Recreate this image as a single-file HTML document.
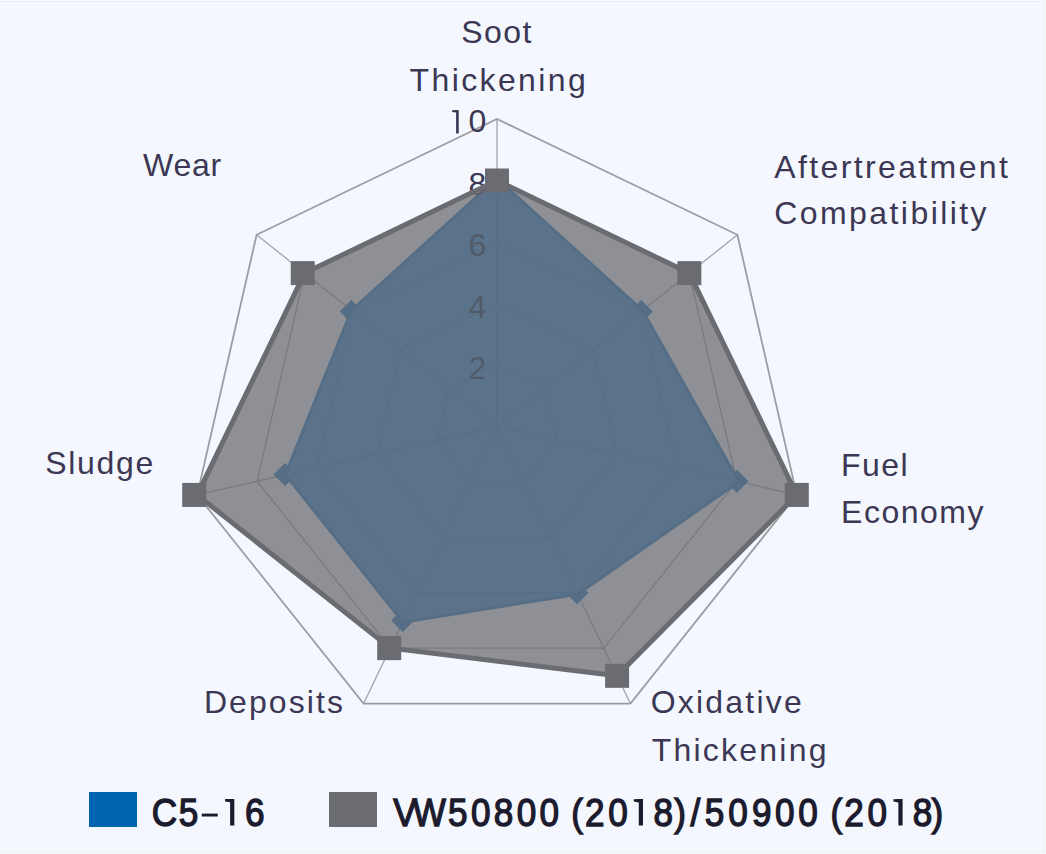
<!DOCTYPE html>
<html><head><meta charset="utf-8"><style>
html,body{margin:0;padding:0;background:#f4f7fd;}
svg{display:block;}
.lbl{font-family:"Liberation Sans",sans-serif;font-size:32px;fill:#3b3754;}
.leg{font-family:"Liberation Sans",sans-serif;font-size:39px;font-weight:normal;fill:#1c1b2e;stroke:#1c1b2e;stroke-width:1.4px;}
.lbl{stroke:#3b3754;stroke-width:0px;}
</style></head><body>
<svg width="1046" height="854" viewBox="0 0 1046 854">
<rect width="1046" height="854" fill="#f4f7fd"/>
<rect x="0" y="0" width="1046" height="1" fill="#f8f9fc"/><rect x="0" y="1" width="1046" height="1" fill="#eceef2"/>
<rect x="1044" y="0" width="1" height="854" fill="#eef0f0"/><rect x="1045" y="0" width="1" height="854" fill="#f7f8f8"/>
<rect x="0" y="852" width="1046" height="1" fill="#eef1f6"/><rect x="0" y="853" width="1046" height="1" fill="#f7f9fd"/>
<g><polygon points="497.00,365.00 545.08,388.16 556.96,440.19 523.68,481.91 470.32,481.91 437.04,440.19 448.92,388.16" fill="none" stroke="#a3a4a9" stroke-width="1.3"/><polygon points="497.00,303.50 593.17,349.81 616.92,453.87 550.37,537.32 443.63,537.32 377.08,453.87 400.83,349.81" fill="none" stroke="#a3a4a9" stroke-width="1.3"/><polygon points="497.00,242.00 641.25,311.47 676.87,467.56 577.05,592.73 416.95,592.73 317.13,467.56 352.75,311.47" fill="none" stroke="#a3a4a9" stroke-width="1.3"/><polygon points="497.00,180.50 689.33,273.12 736.83,481.24 603.74,648.14 390.26,648.14 257.17,481.24 304.67,273.12" fill="none" stroke="#a3a4a9" stroke-width="1.3"/><line x1="497.0" y1="426.5" x2="497.00" y2="119.00" stroke="#a3a4a9" stroke-width="1.3"/><line x1="497.0" y1="426.5" x2="737.41" y2="234.78" stroke="#a3a4a9" stroke-width="1.3"/><line x1="497.0" y1="426.5" x2="796.79" y2="494.93" stroke="#a3a4a9" stroke-width="1.3"/><line x1="497.0" y1="426.5" x2="630.42" y2="703.55" stroke="#a3a4a9" stroke-width="1.3"/><line x1="497.0" y1="426.5" x2="363.58" y2="703.55" stroke="#a3a4a9" stroke-width="1.3"/><line x1="497.0" y1="426.5" x2="197.21" y2="494.93" stroke="#a3a4a9" stroke-width="1.3"/><line x1="497.0" y1="426.5" x2="256.59" y2="234.78" stroke="#a3a4a9" stroke-width="1.3"/><polygon points="497.00,119.00 737.41,234.78 796.79,494.93 630.42,703.55 363.58,703.55 197.21,494.93 256.59,234.78" fill="none" stroke="#9c9da2" stroke-width="1.8"/></g>
<g>
<defs><mask id="outside"><rect width="1046" height="854" fill="#fff"/><polygon points="497.00,180.50 641.25,311.47 736.83,481.24 577.05,592.73 403.61,620.43 287.15,474.40 352.75,311.47" fill="#000"/></mask></defs>
<g opacity="0.8" fill="#006bc7">
<polygon points="497.00,180.50 641.25,311.47 736.83,481.24 577.05,592.73 403.61,620.43 287.15,474.40 352.75,311.47" stroke="#006bc7" stroke-width="6" stroke-linejoin="round"/>
<polygon points="497.00,169.00 508.50,180.50 497.00,192.00 485.50,180.50"/><polygon points="641.25,299.97 652.75,311.47 641.25,322.97 629.75,311.47"/><polygon points="736.83,469.74 748.33,481.24 736.83,492.74 725.33,481.24"/><polygon points="577.05,581.23 588.55,592.73 577.05,604.23 565.55,592.73"/><polygon points="402.67,608.93 414.17,620.43 402.67,631.93 391.17,620.43"/><polygon points="285.05,462.90 296.55,474.40 285.05,485.90 273.55,474.40"/><polygon points="351.31,299.97 362.81,311.47 351.31,322.97 339.81,311.47"/>
</g>
<g mask="url(#outside)" opacity="0.5">
<polygon points="497.00,180.50 641.25,311.47 736.83,481.24 577.05,592.73 403.61,620.43 287.15,474.40 352.75,311.47" fill="none" stroke="#0065b0" stroke-width="6" stroke-linejoin="round"/>
<g fill="#0065b0"><polygon points="497.00,169.00 508.50,180.50 497.00,192.00 485.50,180.50"/><polygon points="641.25,299.97 652.75,311.47 641.25,322.97 629.75,311.47"/><polygon points="736.83,469.74 748.33,481.24 736.83,492.74 725.33,481.24"/><polygon points="577.05,581.23 588.55,592.73 577.05,604.23 565.55,592.73"/><polygon points="402.67,608.93 414.17,620.43 402.67,631.93 391.17,620.43"/><polygon points="285.05,462.90 296.55,474.40 285.05,485.90 273.55,474.40"/><polygon points="351.31,299.97 362.81,311.47 351.31,322.97 339.81,311.47"/></g>
</g>
<g><text class="lbl" x="486.3" y="379.0" text-anchor="end" style="fill:#0a2c50">2</text><text class="lbl" x="486.3" y="317.5" text-anchor="end" style="fill:#0a2c50">4</text><text class="lbl" x="486.3" y="256.0" text-anchor="end" style="fill:#0a2c50">6</text><text class="lbl" x="486.3" y="194.5" text-anchor="end" style="fill:#3b3754">8</text><text class="lbl" x="468.50" y="132.40">0</text><path d="M456.10,110.10H458.70V133.40H456.10V112.50L452.20,111.90V110.30Z" fill="#3b3754"/></g>
<polygon points="497.00,180.50 689.33,273.12 796.79,494.93 617.08,675.84 390.26,648.14 197.21,494.93 304.67,273.12" fill="#6b6c72" fill-opacity="0.74" stroke="none"/>
<polygon points="497.00,180.50 689.33,273.12 796.79,494.93 617.08,675.84 390.26,648.14 197.21,494.93 304.67,273.12" fill="none" stroke="#6b6c72" stroke-width="5" stroke-linejoin="round"/>
<g fill="#6b6c72"><rect x="485.00" y="168.50" width="24.0" height="24.0"/><rect x="677.33" y="261.12" width="24.0" height="24.0"/><rect x="784.79" y="482.93" width="24.0" height="24.0"/><rect x="605.08" y="663.84" width="24.0" height="24.0"/><rect x="377.20" y="636.14" width="24.0" height="24.0"/><rect x="182.21" y="482.93" width="24.0" height="24.0"/><rect x="290.75" y="261.12" width="24.0" height="24.0"/></g>
</g>
<rect x="89" y="792" width="48" height="35" fill="#0065b0"/>
<rect x="329" y="792" width="48" height="35" fill="#6b6c72"/>

<text class="lbl" x="461.30" y="42.80" textLength="70.20" lengthAdjust="spacing">Soot</text><text class="lbl" x="409.50" y="91.16" textLength="176.30" lengthAdjust="spacing">Thickening</text><text class="lbl" x="774.20" y="177.58" textLength="233.70" lengthAdjust="spacing">Aftertreatment</text><text class="lbl" x="774.20" y="224.42" textLength="212.40" lengthAdjust="spacing">Compatibility</text><text class="lbl" x="841.10" y="475.58" textLength="66.50" lengthAdjust="spacing">Fuel</text><text class="lbl" x="841.10" y="522.52" textLength="142.40" lengthAdjust="spacing">Economy</text><text class="lbl" x="650.70" y="713.42" textLength="151.10" lengthAdjust="spacing">Oxidative</text><text class="lbl" x="651.70" y="760.88" textLength="174.80" lengthAdjust="spacing">Thickening</text><text class="lbl" x="203.90" y="713.46" textLength="139.10" lengthAdjust="spacing">Deposits</text><text class="lbl" x="45.20" y="473.54" textLength="108.20" lengthAdjust="spacing">Sludge</text><text class="lbl" x="143.10" y="176.44" textLength="78.10" lengthAdjust="spacing">Wear</text>
<text class="leg" transform="scale(0.9,1)" x="168.5 198.5" y="825.60">C5</text>
<text class="leg" transform="scale(0.9,1)" x="272.3" y="825.60">6</text>
<path d="M230.10,798.90H234.30V825.60H230.10V802.26L225.10,801.42V799.10Z" fill="#1c1b2e"/>
<path d="M638.80,799.10H643.00V825.60H638.80V802.46L633.80,801.62V799.30Z" fill="#1c1b2e"/>
<path d="M898.40,799.10H902.60V825.60H898.40V802.46L893.40,801.62V799.30Z" fill="#1c1b2e"/>
<rect x="201.8" y="813.6" width="16" height="2.9" fill="#1c1b2e"/>
<text class="leg" transform="scale(0.9,1)" x="437.0 458.7 497.9 523.3 548.7 574.1 599.4 634.7 650.1 675.9 726.1 749.1 767.1 783.2 809.2 835.6 861.1 887.0 922.8 938.2 964.0 1014.2 1035.0" y="825.60">VW50800(208)/50900(208)</text>
</svg>
</body></html>
